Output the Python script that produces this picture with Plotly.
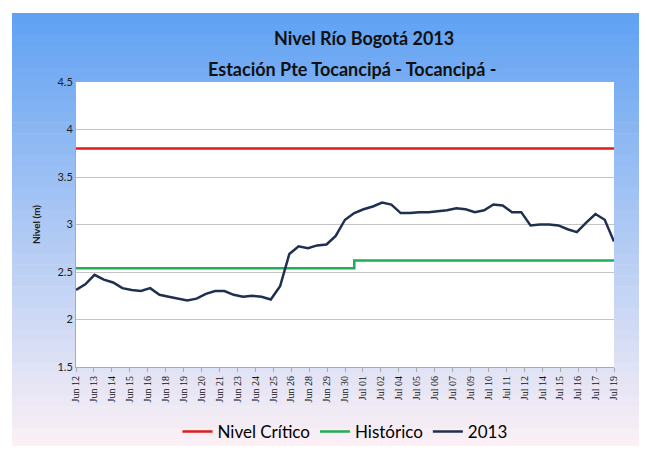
import plotly.graph_objects as go

# fechas de las marcas del eje (categorias)
fechas = ["Jun 12", "Jun 13", "Jun 14", "Jun 15", "Jun 16", "Jun 18", "Jun 19", "Jun 20",
          "Jun 21", "Jun 23", "Jun 24", "Jun 25", "Jun 26", "Jun 28", "Jun 29", "Jun 30",
          "Jul 01", "Jul 02", "Jul 04", "Jul 05", "Jul 06", "Jul 07", "Jul 09", "Jul 10",
          "Jul 11", "Jul 12", "Jul 14", "Jul 15", "Jul 16", "Jul 17", "Jul 19"]

# nivel 2013, 59 lecturas repartidas a lo largo del periodo
nivel_2013 = [2.31, 2.37, 2.47, 2.42, 2.39, 2.33, 2.31, 2.30, 2.33, 2.26,
              2.24, 2.22, 2.20, 2.22, 2.27, 2.30, 2.30, 2.26, 2.24, 2.25,
              2.24, 2.21, 2.35, 2.69, 2.77, 2.75, 2.78, 2.79, 2.88, 3.05,
              3.12, 3.16, 3.19, 3.23, 3.21, 3.12, 3.12, 3.13, 3.13, 3.14,
              3.15, 3.17, 3.16, 3.13, 3.15, 3.21, 3.20, 3.13, 3.13, 2.99,
              3.00, 3.00, 2.99, 2.95, 2.92, 3.02, 3.11, 3.05, 2.82]
nivel_critico = [3.80] * len(nivel_2013)
historico = [2.54] * 30 + [2.62] * 29

pos = [i * 30 / 58 for i in range(len(nivel_2013))]

fig = go.Figure()
fig.add_trace(go.Scatter(x=pos, y=nivel_critico, mode="lines", name="Nivel Crítico",
                         line=dict(color="#e01b1b", width=2.5)))
fig.add_trace(go.Scatter(x=pos, y=historico, mode="lines", name="Histórico",
                         line=dict(color="#1fae55", width=2.5, shape="hv")))
fig.add_trace(go.Scatter(x=pos, y=nivel_2013, mode="lines", name="2013",
                         line=dict(color="#1f2f4f", width=2.5)))

# fondo degradado del grafico
shapes = []
n = 40
c0 = (98, 162, 243)
c1 = (252, 240, 246)
top = 1 + (74 - 5) / 285
alto = (442 - 5) / 285
for i in range(n):
    f = i / (n - 1)
    c = tuple(int(c0[j] + (c1[j] - c0[j]) * f) for j in range(3))
    shapes.append(dict(type="rect", xref="paper", yref="paper", layer="below",
                       x0=(4 - 68) / 538, x1=(632 - 68) / 538,
                       y0=top - (i + 1) * alto / n - 0.002,
                       y1=top - i * alto / n,
                       line=dict(width=0), fillcolor="rgb(%d,%d,%d)" % c))
shapes.append(dict(type="rect", xref="x domain", yref="y domain", layer="below",
                   x0=0, x1=1, y0=0, y1=1, line=dict(width=0), fillcolor="white"))

fig.update_layout(
    width=631,
    height=438,
    margin=dict(l=68, r=25, t=74, b=79),
    paper_bgcolor="white",
    plot_bgcolor="white",
    shapes=shapes,
    font=dict(family="Lato", color="#222222"),
    showlegend=True,
    legend=dict(orientation="h", x=0.5, xanchor="center",
                yref="container", y=0.032, yanchor="middle",
                font=dict(size=17, color="#000000"), bgcolor="rgba(0,0,0,0)",
                itemwidth=30),
    annotations=[
        dict(text="<b>Nivel Río Bogotá 2013</b>", xref="paper", yref="paper",
             x=0.535, y=1 + 57 / 285, showarrow=False, font=dict(size=18, color="#111111")),
        dict(text="<b>Estación Pte Tocancipá - Tocancipá -</b>", xref="paper", yref="paper",
             x=0.513, y=1 + 26 / 285, showarrow=False, font=dict(size=18, color="#111111")),
    ],
)

fig.update_xaxes(
    range=[0, 30],
    tickmode="array",
    tickvals=list(range(len(fechas))),
    ticktext=fechas,
    tickangle=-90,
    tickfont=dict(size=10, color="#111111", family="Liberation Serif"),
    ticks="outside",
    ticklen=4,
    tickcolor="#aaaaaa",
    showgrid=False,
    showline=True,
    linecolor="#aaaaaa",
    zeroline=False,
    automargin=False,
)
fig.update_yaxes(
    range=[1.5, 4.5],
    dtick=0.5,
    tickfont=dict(size=11, color="#222222"),
    showgrid=True,
    gridcolor="#c4c4c4",
    showline=True,
    linecolor="#aaaaaa",
    zeroline=False,
    title=dict(text="<b>Nivel (m)</b>", font=dict(size=10, color="#222222"), standoff=14),
)

fig.write_html("out.html")
